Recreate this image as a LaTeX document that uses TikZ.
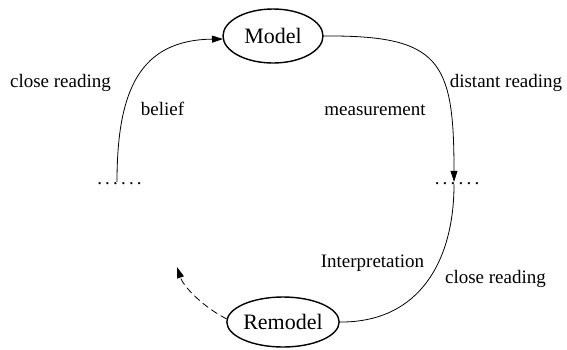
\documentclass[tikz,border=0pt]{standalone}
\usepackage{fontspec}
\setmainfont{Liberation Serif}
\usetikzlibrary{shapes.geometric,arrows.meta}
\begin{document}
\begin{tikzpicture}[x=1pt,y=-1pt,
  state/.style={ellipse, draw, line width=1.4pt, inner sep=0pt, outer sep=0pt, font=\fontsize{22}{24}\selectfont},
  lbl/.style={font=\fontsize{19}{21}\selectfont, inner sep=0pt, anchor=base},
  dotrow/.style={font=\fontsize{19}{21}\selectfont, inner sep=0pt, anchor=base},
  conn/.style={line width=0.8pt},
  tip/.style={-{Triangle[length=11pt,width=7pt]}}]
\useasboundingbox (0,0) rectangle (567,349);
\node[state, minimum width=100pt, minimum height=54pt] (model) at (273,36) {Model};
\node[state, minimum width=101pt, minimum height=50pt] (remodel) at (283,322) {Remodel};
\node[dotrow] (ld) at (119.5,184) {.\kern3.2pt.\kern3.2pt.\kern3.2pt.\kern3.2pt.\kern3.2pt.};
\node[dotrow] (rd) at (457,184) {.\kern3.2pt.\kern3.2pt.\kern3.2pt.\kern3.2pt.\kern3.2pt.};
\coordinate (dashend) at (177,267);
\draw[conn, tip] ([xshift=-2.5pt]ld.north) .. controls (117,90) and (140,40) .. ([yshift=-3pt]model.west);
\draw[conn, tip] (model.east) .. controls (440,35) and (454,60) .. ([xshift=-3pt]rd.north);
\draw[conn] ([xshift=-3pt]rd.south) .. controls (454,260) and (420,323) .. (remodel.east);
\draw[conn, dashed, dash pattern=on 7pt off 4pt, tip] ([yshift=3pt]remodel.west) .. controls (205,308) and (184,288) .. (dashend);
\node[lbl] (l1) at (60.5,87) {close reading};
\node[lbl] (l2) at (162.5,115) {belief};
\node[lbl] (l3) at (506,87) {distant reading};
\node[lbl] (l4) at (375,115) {measurement};
\node[lbl] (l5) at (372.5,267) {Interpretation};
\node[lbl] (l6) at (495.5,283) {close reading};
\end{tikzpicture}
\end{document}
